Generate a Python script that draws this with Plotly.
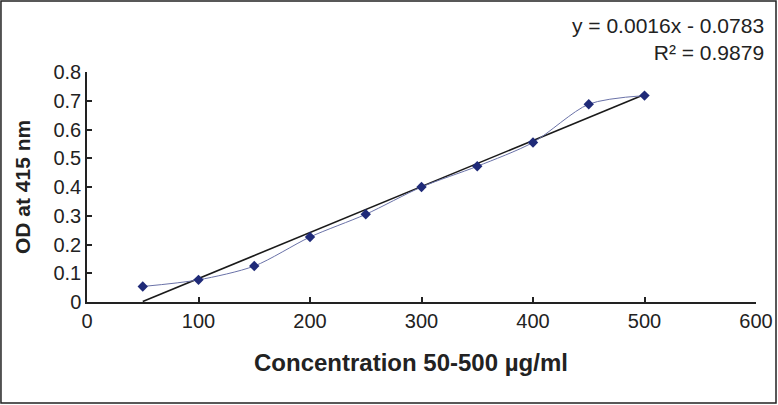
import plotly.graph_objects as go

concentration = [50, 100, 150, 200, 250, 300, 350, 400, 450, 500]
od_415 = [0.054, 0.077, 0.125, 0.226, 0.305, 0.400, 0.472, 0.555, 0.688, 0.718]
trend_slope = 0.0016
trend_intercept = -0.0783
trend_x = [50, 500]
equation_text = "y = 0.0016x - 0.0783<br>R² = 0.9879"
x_title = "Concentration 50-500 µg/ml"
y_title = "OD at 415 nm"

trend_y = [trend_slope * x + trend_intercept for x in trend_x]

FAM = "Liberation Sans, Arial, sans-serif"
fig = go.Figure()
fig.add_trace(go.Scatter(
    x=trend_x, y=trend_y, mode="lines",
    line=dict(color="#1a1a1a", width=1.6), showlegend=False, hoverinfo="skip"))
fig.add_trace(go.Scatter(
    x=concentration, y=od_415, mode="lines+markers",
    line=dict(color="#6a72a8", width=1, shape="spline", smoothing=0.8),
    marker=dict(symbol="diamond", size=8, color="#1f2a78"),
    showlegend=False))

tick_font = dict(family=FAM, size=20, color="#222")
fig.update_layout(
    width=778, height=405,
    margin=dict(l=87, r=22, t=72, b=103, autoexpand=False),
    paper_bgcolor="white", plot_bgcolor="white",
    font=tick_font,
    xaxis=dict(range=[0, 600], dtick=100, showgrid=False, zeroline=False,
               showline=True, linecolor="#222", linewidth=1.5,
               ticks="inside", ticklen=5, tickcolor="#222", tickwidth=1.5,
               tickfont=tick_font),
    yaxis=dict(range=[0, 0.8], dtick=0.1, showgrid=False, zeroline=False,
               showline=True, linecolor="#222", linewidth=1.5,
               ticks="inside", ticklen=5, tickcolor="#222", tickwidth=1.5,
               tickfont=tick_font),
    shapes=[dict(type="rect", xref="paper", yref="paper",
                 x0=-0.1286, x1=1.0299, y0=-0.439, y1=1.3087,
                 line=dict(color="#222", width=1.5))],
    annotations=[
        dict(text=equation_text, xref="paper", yref="paper",
             x=1.0150, y=1.262, xanchor="right", yanchor="top",
             align="right", showarrow=False,
             font=dict(family=FAM, size=21, color="#222")),
        dict(text="<b>" + x_title + "</b>", xref="paper", yref="paper",
             x=0.4843, y=-0.261, xanchor="center", yanchor="middle",
             showarrow=False, font=dict(family=FAM, size=24, color="#222")),
        dict(text="<b>" + y_title + "</b>", xref="paper", yref="paper",
             x=-0.0972, y=0.5, xanchor="center", yanchor="middle",
             textangle=-90, showarrow=False,
             font=dict(family=FAM, size=21, color="#222")),
    ],
)
fig.write_html("out.html", config={"displayModeBar": False},
               post_script="document.body.style.margin='0';document.body.style.overflow='hidden';")
